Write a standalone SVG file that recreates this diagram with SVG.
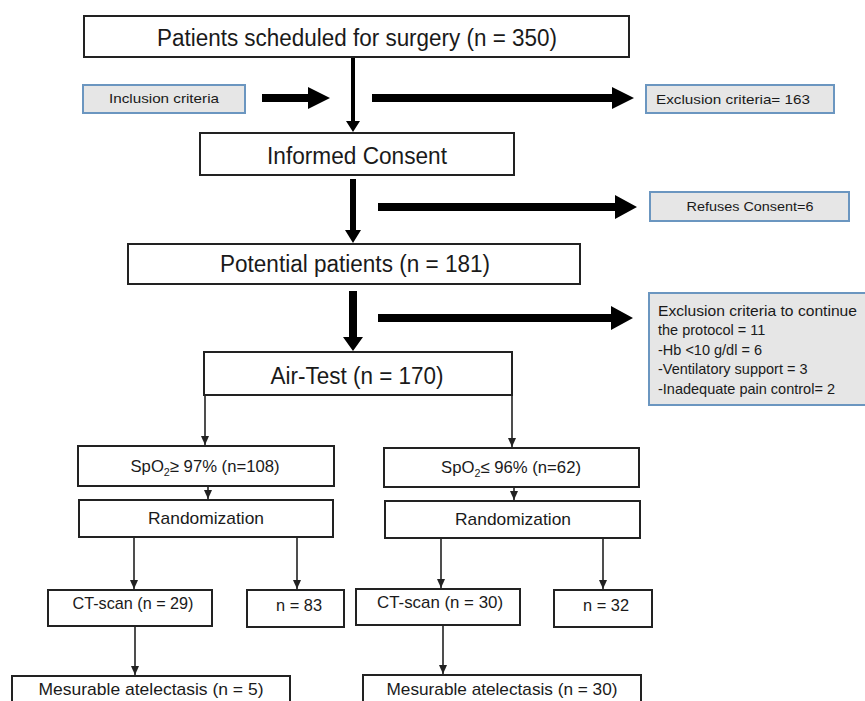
<svg xmlns="http://www.w3.org/2000/svg" width="865" height="701" viewBox="0 0 865 701">
<style>
.box{fill:#fff;stroke:#222;stroke-width:2}
.gbox{fill:#e6e6e6;stroke:#6b96c0;stroke-width:2}
text{font-family:"Liberation Sans",Arial,sans-serif;fill:#1a1a1a}
.big{font-size:23px;text-anchor:middle}
.mid{font-size:17px;text-anchor:middle}
.sm{font-size:13px}
.ex{font-size:14.5px}
.thin{stroke:#222;stroke-width:1.6;fill:none}
.thick{fill:#000}
</style>
<defs>
<marker id="ah" markerUnits="userSpaceOnUse" markerWidth="10" markerHeight="10" refX="9" refY="5" orient="auto">
<path d="M0,1 L9,5 L0,9 Z" fill="#222"/>
</marker>
</defs>
<rect width="865" height="701" fill="#fff"/>

<g id="connectors">
<path class="thick" d="M351,57 H355 V121 H360 L353,132 L346,121 H351 Z"/>
<path class="thick" d="M350,179 H356 V230 H361 L353,243 L345,230 H350 Z"/>
<path class="thick" d="M349,291 H357 V337 H363 L353,351 L343,337 H349 Z"/>
<path class="thick" d="M262,94 H308 V87 L330,98 L308,109 V102 H262 Z"/>
<path class="thick" d="M372,94 H612 V87 L634,98 L612,109 V102 H372 Z"/>
<path class="thick" d="M378,203 H615 V195 L637,207 L615,219 V211 H378 Z"/>
<path class="thick" d="M378,314 H611 V306 L633,318 L611,330 V322 H378 Z"/>
<line class="thin" x1="205" y1="395" x2="205" y2="445" marker-end="url(#ah)"/>
<line class="thin" x1="512" y1="395" x2="512" y2="447" marker-end="url(#ah)"/>
<line class="thin" x1="208" y1="486" x2="208" y2="499" marker-end="url(#ah)"/>
<line class="thin" x1="514" y1="487" x2="514" y2="500" marker-end="url(#ah)"/>
<line class="thin" x1="134" y1="537" x2="134" y2="589" marker-end="url(#ah)"/>
<line class="thin" x1="297" y1="537" x2="297" y2="589" marker-end="url(#ah)"/>
<line class="thin" x1="441" y1="537" x2="441" y2="588" marker-end="url(#ah)"/>
<line class="thin" x1="603" y1="537" x2="603" y2="589" marker-end="url(#ah)"/>
<line class="thin" x1="135" y1="626" x2="135" y2="675" marker-end="url(#ah)"/>
<line class="thin" x1="443" y1="625" x2="443" y2="674" marker-end="url(#ah)"/>
</g>

<g id="n-patients">
<rect class="box" x="84" y="16" width="545" height="41"/>
<text class="big" x="357" y="46" textLength="400" lengthAdjust="spacingAndGlyphs" font-size="24">Patients scheduled for surgery (n = 350)</text>
</g>
<g id="n-inclusion">
<rect class="gbox" x="83" y="85" width="162" height="28"/>
<text class="sm" x="164" y="103" text-anchor="middle" textLength="110" lengthAdjust="spacingAndGlyphs">Inclusion criteria</text>
</g>
<g id="n-exclusion">
<rect class="gbox" x="646" y="85" width="188" height="28"/>
<text class="sm" x="656" y="104" textLength="154" lengthAdjust="spacingAndGlyphs">Exclusion criteria= 163</text>
</g>
<g id="n-consent">
<rect class="box" x="200" y="133" width="314" height="42"/>
<text class="big" x="357" y="164" textLength="180" lengthAdjust="spacingAndGlyphs">Informed Consent</text>
</g>
<g id="n-refuses">
<rect class="gbox" x="650" y="192" width="199" height="29"/>
<text class="sm" x="750" y="211" text-anchor="middle" textLength="127" lengthAdjust="spacingAndGlyphs">Refuses Consent=6</text>
</g>
<g id="n-potential">
<rect class="box" x="128" y="244" width="452" height="40"/>
<text class="big" x="355" y="272" textLength="270" lengthAdjust="spacingAndGlyphs">Potential patients (n = 181)</text>
</g>
<g id="n-exclusion2">
<rect class="gbox" x="649" y="293" width="222" height="112"/>
<text class="ex" x="658" y="316" textLength="199" lengthAdjust="spacingAndGlyphs">Exclusion criteria to continue</text>
<text class="ex" x="658" y="335">the protocol = 11</text>
<text class="ex" x="658" y="355">-Hb &lt;10 g/dl = 6</text>
<text class="ex" x="658" y="374">-Ventilatory support = 3</text>
<text class="ex" x="658" y="394">-Inadequate pain control= 2</text>
</g>
<g id="n-airtest">
<rect class="box" x="204" y="352" width="308" height="43"/>
<text class="big" x="357" y="384" textLength="173" lengthAdjust="spacingAndGlyphs">Air-Test (n = 170)</text>
</g>
<g id="n-spo2-high">
<rect class="box" x="78" y="446" width="256" height="40"/>
<text class="mid" x="205" y="472" textLength="149" lengthAdjust="spacingAndGlyphs">SpO<tspan font-size="11" dy="4">2</tspan><tspan dy="-4">≥ 97% (n=108)</tspan></text>
</g>
<g id="n-spo2-low">
<rect class="box" x="384" y="448" width="255" height="39"/>
<text class="mid" x="511" y="473" textLength="140" lengthAdjust="spacingAndGlyphs">SpO<tspan font-size="11" dy="4">2</tspan><tspan dy="-4">≤ 96% (n=62)</tspan></text>
</g>
<g id="n-rand-left">
<rect class="box" x="79" y="500" width="254" height="37"/>
<text class="mid" x="206" y="524" textLength="116" lengthAdjust="spacingAndGlyphs">Randomization</text>
</g>
<g id="n-rand-right">
<rect class="box" x="385" y="501" width="255" height="37"/>
<text class="mid" x="513" y="525" textLength="116" lengthAdjust="spacingAndGlyphs">Randomization</text>
</g>
<g id="n-ct-left">
<rect class="box" x="48" y="590" width="164" height="36"/>
<text class="mid" x="133" y="609" textLength="121" lengthAdjust="spacingAndGlyphs">CT-scan (n = 29)</text>
</g>
<g id="n-83">
<rect class="box" x="247" y="590" width="97" height="37"/>
<text class="mid" x="299" y="611" textLength="46" lengthAdjust="spacingAndGlyphs">n = 83</text>
</g>
<g id="n-ct-right">
<rect class="box" x="356" y="589" width="164" height="36"/>
<text class="mid" x="440" y="608" textLength="126" lengthAdjust="spacingAndGlyphs">CT-scan (n = 30)</text>
</g>
<g id="n-32">
<rect class="box" x="554" y="590" width="98" height="37"/>
<text class="mid" x="606" y="611" textLength="46" lengthAdjust="spacingAndGlyphs">n = 32</text>
</g>
<g id="n-atel-left">
<rect class="box" x="12" y="676" width="278" height="40"/>
<text class="mid" x="151" y="695" font-size="19" textLength="225" lengthAdjust="spacingAndGlyphs">Mesurable atelectasis (n = 5)</text>
</g>
<g id="n-atel-right">
<rect class="box" x="363" y="675" width="278" height="40"/>
<text class="mid" x="502" y="695" font-size="19" textLength="231" lengthAdjust="spacingAndGlyphs">Mesurable atelectasis (n = 30)</text>
</g>
</svg>
